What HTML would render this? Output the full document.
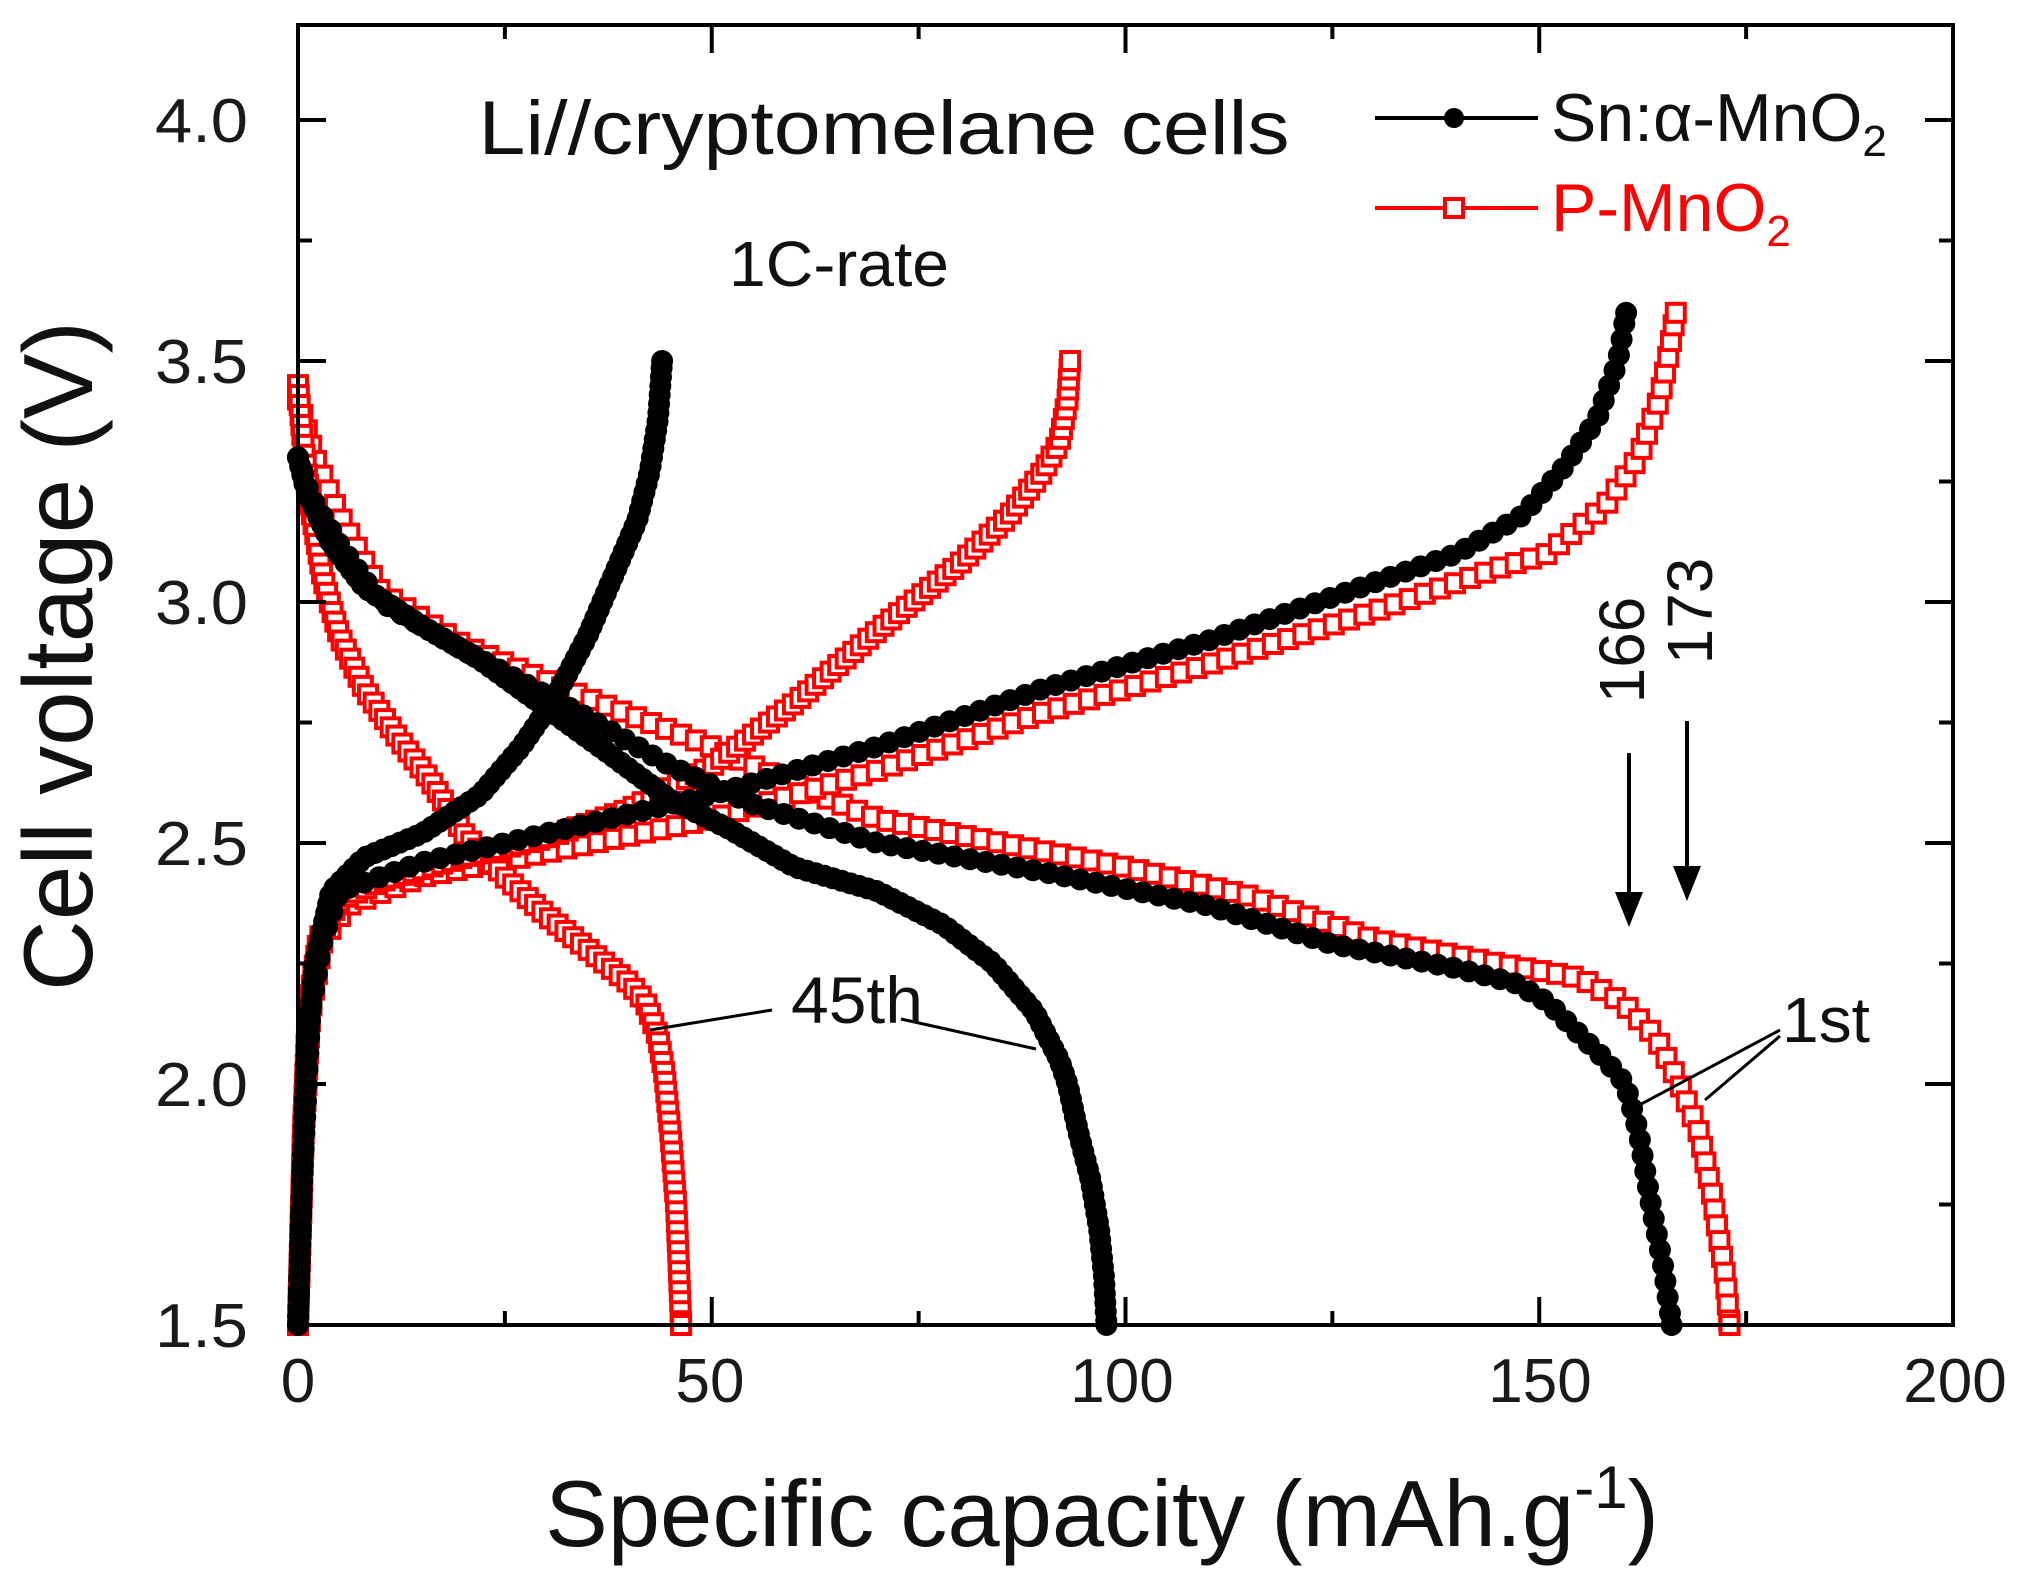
<!DOCTYPE html>
<html><head><meta charset="utf-8"><style>
html,body{margin:0;padding:0;background:#fff;width:2030px;height:1596px;overflow:hidden}
svg{display:block}
text{font-family:"Liberation Sans",sans-serif}
</style></head><body>
<svg id="s" width="2030" height="1596" viewBox="0 0 2030 1596" xmlns="http://www.w3.org/2000/svg">
<g id="data"></g>
<rect x="298" y="25" width="1655" height="1300" fill="none" stroke="#000" stroke-width="4"/>
<g id="ticks" stroke="#000" stroke-width="4"></g>
<g font-size="62" fill="#1a1a1a" text-anchor="end">
<text x="248" y="1347" textLength="93" lengthAdjust="spacingAndGlyphs">1.5</text><text x="248" y="1106" textLength="93" lengthAdjust="spacingAndGlyphs">2.0</text><text x="248" y="865" textLength="93" lengthAdjust="spacingAndGlyphs">2.5</text>
<text x="248" y="624" textLength="93" lengthAdjust="spacingAndGlyphs">3.0</text><text x="248" y="383" textLength="93" lengthAdjust="spacingAndGlyphs">3.5</text><text x="248" y="142" textLength="93" lengthAdjust="spacingAndGlyphs">4.0</text>
</g>
<g font-size="62" fill="#1a1a1a" text-anchor="middle">
<text x="298" y="1402">0</text><text x="710" y="1402">50</text><text x="1122" y="1402">100</text>
<text x="1540" y="1402">150</text><text x="1955" y="1402">200</text>
</g>
<text x="1102" y="1546" font-size="94" text-anchor="middle" fill="#111">Specific capacity (mAh.g<tspan font-size="60" dy="-38">-1</tspan><tspan dy="38">)</tspan></text>
<text transform="translate(92,656) rotate(-90)" font-size="98" text-anchor="middle" fill="#111">Cell voltage (V)</text>
<text x="884" y="154" font-size="76" text-anchor="middle" fill="#111" textLength="811" lengthAdjust="spacingAndGlyphs">Li//cryptomelane cells</text>
<text x="839" y="286" font-size="64" text-anchor="middle" fill="#111" textLength="220" lengthAdjust="spacingAndGlyphs">1C-rate</text>
<line x1="1375" y1="118" x2="1538" y2="118" stroke="#000" stroke-width="4"/>
<circle cx="1454" cy="118" r="10" fill="#000"/>
<text x="1551" y="141" font-size="68" fill="#111">Sn:α-MnO<tspan font-size="44" dy="15">2</tspan></text>
<line x1="1375" y1="208" x2="1538" y2="208" stroke="#f00" stroke-width="4"/>
<rect x="1445" y="199" width="18" height="18" fill="#fff" stroke="#f00" stroke-width="4"/>
<text x="1551" y="231" font-size="68" fill="#f00">P-MnO<tspan font-size="44" dy="15">2</tspan></text>
<text transform="translate(1644,650) rotate(-90)" font-size="64" text-anchor="middle" fill="#111">166</text>
<text transform="translate(1712,611) rotate(-90)" font-size="64" text-anchor="middle" fill="#111">173</text>
<line x1="1629" y1="753" x2="1629" y2="905" stroke="#000" stroke-width="4"/>
<polygon points="1615,892 1643,892 1629,927" fill="#000"/>
<line x1="1687" y1="721" x2="1687" y2="880" stroke="#000" stroke-width="4"/>
<polygon points="1673,866 1701,866 1687,901" fill="#000"/>
<text x="1782" y="1042" font-size="64" fill="#111" textLength="88" lengthAdjust="spacingAndGlyphs">1st</text>
<g stroke="#000" stroke-width="3" fill="none">
<line x1="1780" y1="1030" x2="1630" y2="1110"/><line x1="1780" y1="1036" x2="1705" y2="1100"/>
<line x1="772" y1="1010" x2="650" y2="1030"/><line x1="901" y1="1019" x2="1036" y2="1049"/>
</g>
<text x="857" y="1023" font-size="66" text-anchor="middle" fill="#111" textLength="132" lengthAdjust="spacingAndGlyphs">45th</text>
</svg>
<script>
var X=function(c){return 298+c*8.275},Y=function(v){return 1325-(v-1.5)*482};
var ns="http://www.w3.org/2000/svg",D=document.getElementById('data'),T=document.getElementById('ticks');
function el(n,a,p){var e=document.createElementNS(ns,n);for(var k in a)e.setAttribute(k,a[k]);(p||D).appendChild(e);return e;}
for(var c=0;c<=200;c+=25){var x=X(c),L=(c%50==0)?28:14;el('line',{x1:x,y1:1325,x2:x,y2:1325-L},T);el('line',{x1:x,y1:25,x2:x,y2:25+L},T);}
for(var v=1.5;v<=4.2;v+=0.25){var y=Y(v),L=(Math.abs(v*2-Math.round(v*2))<1e-6)?28:14;el('line',{x1:298,y1:y,x2:298+L,y2:y},T);el('line',{x1:1953,y1:y,x2:1953-L,y2:y},T);}
var curves=[
 {red:1,sp:16,p:[[0,3.42],[2,3.3],[5,3.18],[10,3.02],[20,2.91],[35,2.8],[50,2.7],[60,2.62],[70,2.55],[85,2.5],[100,2.45],[115,2.39],[130,2.3],[145,2.25],[155,2.22],[160,2.17],[164,2.1],[167,2.0],[169.3,1.9],[170.8,1.78],[172,1.65],[172.5,1.6],[173,1.5]]},
 {red:1,sp:16,p:[[0,1.5],[0.7,1.9],[1.5,2.15],[3,2.3],[6,2.37],[15,2.43],[30,2.48],[50,2.55],[70,2.65],[90,2.77],[110,2.87],[130,2.98],[145,3.07],[151,3.1],[158,3.2],[162,3.3],[164.5,3.42],[165.5,3.5],[166.5,3.6]]},
 {red:1,sp:10,p:[[0,3.45],[0.5,3.35],[1.5,3.2],[3,3.05],[5,2.93],[8,2.82],[12,2.72],[16,2.63],[20,2.52],[25,2.43],[30,2.35],[35,2.28],[40,2.21],[42,2.17],[43.5,2.1],[44.3,2.02],[45,1.9],[45.7,1.75],[46,1.63],[46.3,1.5]]},
 {red:1,sp:10,p:[[0,1.5],[0.6,1.9],[1.2,2.15],[2.5,2.3],[5,2.38],[10,2.42],[20,2.47],[30,2.51],[40,2.57],[50,2.66],[60,2.79],[70,2.94],[80,3.08],[86,3.18],[90,3.27],[92,3.33],[93,3.42],[93.3,3.5]]},
 {red:0,sp:16,p:[[0,3.3],[1.5,3.22],[5,3.12],[10,3.0],[20,2.9],[35,2.76],[45,2.66],[55,2.58],[70,2.5],[90,2.44],[110,2.37],[125,2.29],[140,2.24],[147,2.21],[151,2.17],[155,2.1],[158,2.05],[160.4,2.0],[162,1.9],[163.5,1.75],[165,1.62],[166,1.5]]},
 {red:0,sp:16,p:[[0,1.5],[0.5,1.8],[1.5,2.15],[3,2.3],[5,2.4],[15,2.46],[30,2.52],[50,2.6],[70,2.7],[90,2.82],[110,2.92],[125,3.01],[140,3.1],[148,3.18],[153,3.28],[157,3.38],[159.5,3.5],[160.5,3.6]]},
 {red:0,sp:9,p:[[0,3.3],[1,3.23],[4,3.12],[8,3.03],[15,2.95],[22,2.88],[30,2.78],[38,2.68],[45,2.59],[52,2.53],[60,2.45],[70,2.4],[78,2.33],[84,2.25],[89,2.15],[92,2.05],[93,2.0],[94.3,1.9],[95.8,1.8],[96.8,1.7],[97.4,1.6],[97.7,1.5]]},
 {red:0,sp:9,p:[[0,1.5],[0.4,1.75],[1,2.05],[2,2.25],[4,2.4],[8,2.47],[15,2.52],[22,2.6],[27,2.7],[31,2.8],[35,2.93],[38,3.05],[41,3.17],[42.5,3.27],[43.5,3.38],[44,3.5]]}
];
curves.forEach(function(cv){
 var pts=cv.p.map(function(q){return [X(q[0]),Y(q[1])]});
 var col=cv.red?'#f00':'#000';
 el('polyline',{points:pts.map(function(q){return q.join(',')}).join(' '),fill:'none',stroke:col,'stroke-width':3});
 var out=[pts[0]],acc=0;
 for(var i=1;i<pts.length;i++){var a=pts[i-1],b=pts[i],d=Math.hypot(b[0]-a[0],b[1]-a[1]);var t=cv.sp-acc;while(t<=d){out.push([a[0]+(b[0]-a[0])*t/d,a[1]+(b[1]-a[1])*t/d]);t+=cv.sp;}acc=d-(t-cv.sp);}
 out.push(pts[pts.length-1]);
 out.forEach(function(q){
  if(cv.red) el('rect',{x:q[0]-9,y:q[1]-9,width:18,height:18,fill:'#fff',stroke:'#f00','stroke-width':4});
  else el('circle',{cx:q[0],cy:q[1],r:11,fill:'#000'});
 });
});
</script>
</body></html>
